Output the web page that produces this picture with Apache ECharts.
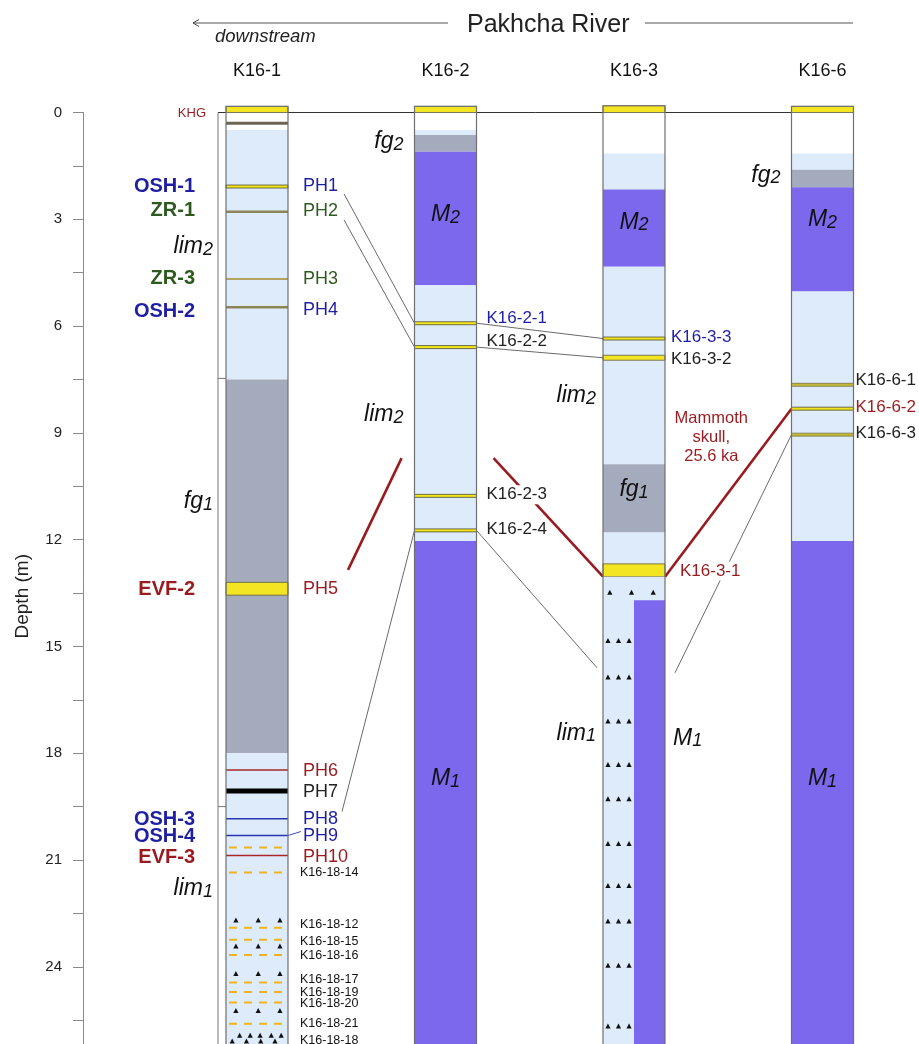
<!DOCTYPE html>
<html>
<head>
<meta charset="utf-8">
<title>Pakhcha River sections</title>
<script src="https://cdn.jsdelivr.net/npm/echarts@6.0.0/dist/echarts.min.js"></script>
<style>
html, body { margin: 0; padding: 0; background: #fff; }
#main { width: 919px; height: 1044px; }
</style>
</head>
<body>
<div id="main"></div>
<script>
// sections, downstream -> upstream
var cores = ['K16-1', 'K16-2', 'K16-3', 'K16-6'];
var DEPTH_MAX = 27.18;

// layers of each section: [top m, bottom m, kind]
var layersK161 = [[-0.17, 0, 'Y'], [0.49, 7.5, 'lb'], [7.5, 18.0, 'fg'], [13.2, 13.56, 'Y'], [18.0, DEPTH_MAX, 'lb']];
var layersK162 = [[-0.17, 0, 'Y'], [0.49, 0.63, 'lb'], [0.63, 1.1, 'fg'], [1.1, 4.85, 'M'], [4.85, 12.04, 'lb'], [12.04, DEPTH_MAX, 'M']];
var layersK163 = [[-0.19, 0, 'Y'], [1.15, 2.16, 'lb'], [2.16, 4.33, 'M'], [4.33, 9.88, 'lb'], [6.82, 6.96, 'Y'],
    [9.88, 11.8, 'fg'], [11.8, 12.68, 'lb'], [12.68, 13.04, 'Y'], [13.04, DEPTH_MAX, 'lb'], [13.7, DEPTH_MAX, 'MR']];
var layersK166 = [[-0.17, 0, 'Y'], [1.15, 1.61, 'lb'], [1.61, 2.1, 'fg'], [2.1, 5.03, 'M'], [5.03, 12.04, 'lb'], [12.04, DEPTH_MAX, 'M']];

// thin tephra / marker beds: [depth, kind]
var bedsK161 = [[0.3, 'dk'], [2.08, 'yk'], [2.79, 'ol'], [4.68, 'olt'], [5.47, 'ol'], [18.47, 'red'], [19.06, 'blk'],
    [19.84, 'blue'], [20.31, 'blue'], [20.87, 'red']];
var bedsK162 = [[5.92, 'yk'], [6.59, 'yk'], [10.77, 'yk'], [11.74, 'yk']];
var bedsK163 = [[6.35, 'yk']];
var bedsK166 = [[7.65, 'oy'], [8.32, 'yk'], [9.05, 'oy']];

// dashed cryptotephra horizons in K16-1
var dashDepths = [20.65, 21.35, 22.9, 23.24, 23.67, 24.44, 24.71, 25.0, 25.6];

// frost marks: [core, depth, pattern]
var triangleRows = [[0, 22.7, 'w3'], [0, 23.43, 'w3'], [0, 24.2, 'w3'], [0, 25.24, 'w3'], [0, 25.94, 'd5'], [0, 26.1, 'd4'],
    [2, 13.49, 't3'], [2, 14.85, 'l3'], [2, 15.87, 'l3'], [2, 17.11, 'l3'], [2, 18.33, 'l3'], [2, 19.29, 'l3'],
    [2, 20.55, 'l3'], [2, 21.73, 'l3'], [2, 22.73, 'l3'], [2, 23.97, 'l3'], [2, 25.68, 'l3']];

// tephra names left of K16-1 and PH numbers right of it
var tephraNames = ['OSH-1', 'ZR-1', 'ZR-3', 'OSH-2', 'EVF-2', 'OSH-3', 'OSH-4', 'EVF-3'];
var tephraDepths = [2.07, 2.74, 4.65, 5.58, 13.39, 19.85, 20.35, 20.94];
var tephraGroups = ['OSH', 'ZR', 'ZR', 'OSH', 'EVF', 'OSH', 'OSH', 'EVF'];
var phNames = ['PH1', 'PH2', 'PH3', 'PH4', 'PH5', 'PH6', 'PH7', 'PH8', 'PH9', 'PH10'];
var phDepths = [2.07, 2.77, 4.68, 5.55, 13.39, 18.5, 19.08, 19.85, 20.32, 20.91];
var phGroups = ['OSH', 'ZR', 'ZR', 'OSH', 'EVF', 'EVF', 'other', 'OSH', 'OSH', 'EVF'];
var k1618Names = ['K16-18-14', 'K16-18-12', 'K16-18-15', 'K16-18-16', 'K16-18-17', 'K16-18-19', 'K16-18-20', 'K16-18-21', 'K16-18-18'];
var k1618Depths = [21.35, 22.82, 23.3, 23.67, 24.37, 24.71, 25.02, 25.6, 26.06];

// samples in the other sections
var sampleNames = ['K16-2-1', 'K16-2-2', 'K16-2-3', 'K16-2-4', 'K16-3-3', 'K16-3-2', 'K16-3-1', 'K16-6-1', 'K16-6-2', 'K16-6-3'];
var sampleCores = [1, 1, 1, 1, 2, 2, 2, 3, 3, 3];
var sampleDepths = [5.77, 6.42, 10.74, 11.7, 6.31, 6.92, 12.88, 7.51, 8.27, 9.0];
var sampleGroups = ['OSH', 'other', 'other', 'other', 'OSH', 'other', 'EVF', 'other', 'EVF', 'other'];

// units: [core, depth, name, subscript, placement]
var unitLabels = [
    [0, 3.78, 'lim', '2', 'left'], [0, 10.94, 'fg', '1', 'left'], [0, 21.81, 'lim', '1', 'left'],
    [1, 0.83, 'fg', '2', 'left'], [1, 2.88, 'M', '2', 'centre'], [1, 8.5, 'lim', '2', 'left'], [1, 18.72, 'M', '1', 'centre'],
    [2, 3.09, 'M', '2', 'centre'], [2, 7.96, 'lim', '2', 'left'], [2, 10.6, 'fg', '1', 'centre'],
    [2, 17.44, 'lim', '1', 'left'], [2, 17.58, 'M', '1', 'right'],
    [3, 1.76, 'fg', '2', 'left'], [3, 3.02, 'M', '2', 'centre'], [3, 18.72, 'M', '1', 'centre']
];

// correlation lines: [coreA, posA, depthA, coreB, posB, depthB]; pos 'L'/'R' = column edge,
// a number = distance from the section centre in x-axis units
var tieLines = [[0, 0.462, 2.29, 1, 'L', 5.92], [0, 0.462, 3.02, 1, 'L', 6.59], [1, 'R', 5.92, 2, 'L', 6.35],
    [1, 'R', 6.59, 2, 'L', 6.89], [0, 0.451, 19.64, 1, 'L', 11.74], [1, 'R', 11.74, 2, -0.196, 15.6],
    [3, 'L', 9.05, 2, 0.2175, 15.74]];
var tieLineBlue = [[0, 'R', 20.31, 0, 0.233, 20.2]];
var mammothLines = [[0, 0.483, 12.85, 1, -0.233, 9.71], [1, 0.255, 9.71, 2, 'L', 13.04], [2, 'R', 13.04, 3, 'L', 8.32]];
var bracketTicks = [7.47, 19.5];

var FONT = '"Liberation Sans", Arial, Helvetica, sans-serif';
var HALF = 31;
var UNIT_GAP = [13, 11, 7, 11];
var SAMPLE_GAP = [12, 10, 6, 2];
var colors = {OSH: '#1f1fa3', ZR: '#2e5a20', EVF: '#9a1b1f', other: '#222'};
var layerStyle = {
    lb: {fill: '#deebfb'}, fg: {fill: '#a3abbc'}, M: {fill: '#7b68ec'}, MR: {fill: '#7b68ec'},
    Y: {fill: '#f3e521', stroke: '#5a5a4a', lineWidth: 0.8}
};
var bedStyle = {
    dk: {h: 3, fill: '#6b6452'}, yk: {h: 3, fill: '#f1e31c', stroke: '#3a3a2a', lineWidth: 0.7},
    ol: {h: 2.5, fill: '#8d8457'}, olt: {h: 2, fill: '#b3a464'}, oy: {h: 3, fill: '#c4b83c', stroke: '#6b6a3a', lineWidth: 0.7},
    red: {h: 1.5, fill: '#a8282a'}, blk: {h: 5, fill: '#000'}, blue: {h: 1.5, fill: '#2a36b0'}
};
var triPatterns = {
    w3: [0.16, 0.52, 0.87], d5: [0.22, 0.39, 0.55, 0.73, 0.89], d4: [0.1, 0.33, 0.56, 0.79],
    t3: [0.11, 0.46, 0.81], l3: [0.08, 0.25, 0.42]
};

var layerRows = [];
[layersK161, layersK162, layersK163, layersK166].forEach(function (list, c) {
    list.forEach(function (l) { layerRows.push([c, l[0], l[1], l[2]]); });
});
var bedRows = [];
[bedsK161, bedsK162, bedsK163, bedsK166].forEach(function (list, c) {
    list.forEach(function (b) { bedRows.push([c, b[0], b[1]]); });
});

function cx(api, core, off) {
    return api.coord([core + 0.5 + (typeof off === 'number' ? off : 0), 0])[0] +
        (off === 'L' ? -HALF : off === 'R' ? HALF : 0);
}
function cy(api, d) { return api.coord([0.5, d])[1]; }

function textEl(x, y, text, o) {
    return {
        type: 'text', x: x, y: y,
        style: {
            text: text, fill: o.color || '#222', fontFamily: FONT, fontSize: o.size || 16,
            fontWeight: o.weight || 'normal', fontStyle: o.style || 'normal',
            align: o.align || 'left', verticalAlign: 'middle', lineHeight: o.lineHeight,
            backgroundColor: o.bg, padding: o.bg ? [1, 2] : 0, rich: o.rich
        }
    };
}

var unitRich = {
    m: {fontFamily: FONT, fontSize: 23, fontStyle: 'italic', lineHeight: 24, fill: '#111'},
    s: {fontFamily: FONT, fontSize: 18, fontStyle: 'italic', lineHeight: 4, verticalAlign: 'bottom', fill: '#111'}
};

// all texts attached to the sections
var annotations = [];
annotations.push({core: 0, pos: 'L', gap: -20, d: 0.02, text: 'KHG', o: {size: 13, color: colors.EVF, align: 'right'}});
tephraNames.forEach(function (n, i) {
    annotations.push({core: 0, pos: 'L', gap: -31, d: tephraDepths[i], text: n,
        o: {size: 20, weight: 'bold', color: colors[tephraGroups[i]], align: 'right'}});
});
phNames.forEach(function (n, i) {
    annotations.push({core: 0, pos: 'R', gap: 15, d: phDepths[i], text: n, o: {size: 18, color: colors[phGroups[i]]}});
});
k1618Names.forEach(function (n, i) {
    annotations.push({core: 0, pos: 'R', gap: 12, d: k1618Depths[i], text: n, o: {size: 12.5, color: '#111'}});
});
sampleNames.forEach(function (n, i) {
    var bg = (n === 'K16-2-3' || n === 'K16-3-1') ? '#fff' : null;
    var c = sampleCores[i];
    var gap = n === 'K16-3-1' ? 13 : SAMPLE_GAP[c] - (bg ? 2 : 0);
    annotations.push({core: c, pos: 'R', gap: gap, d: sampleDepths[i], text: n,
        o: {size: 17, color: colors[sampleGroups[i]], bg: bg}});
});
unitLabels.forEach(function (u) {
    var pos = u[4] === 'left' ? 'L' : u[4] === 'right' ? 'R' : 0;
    var gap = u[4] === 'left' ? -UNIT_GAP[u[0]] : u[4] === 'right' ? 8 : 0;
    annotations.push({core: u[0], pos: pos, gap: gap, d: u[1], text: '{m|' + u[2] + '}{s|' + u[3] + '}',
        o: {align: u[4] === 'left' ? 'right' : u[4] === 'right' ? 'left' : 'center', rich: unitRich}});
});
annotations.push({core: 2, pos: 0.41, gap: 0, d: 9.12, text: 'Mammoth\nskull,\n25.6 ka',
    o: {size: 16.5, color: colors.EVF, align: 'center', lineHeight: 19}});

function lineSeries(rows, color, width, z) {
    return {
        type: 'custom', z: z, silent: true, xAxisIndex: 1, yAxisIndex: 1,
        data: rows.map(function (r, i) { return [i, r[2], r[5]]; }),
        renderItem: function (params, api) {
            var r = rows[params.dataIndex];
            return {
                type: 'line',
                shape: {x1: cx(api, r[0], r[1]), y1: cy(api, r[2]), x2: cx(api, r[3], r[4]), y2: cy(api, r[5])},
                style: {stroke: color, lineWidth: width}
            };
        }
    };
}

var chart = echarts.init(document.getElementById('main'));
var option = {
    animation: false,
    title: {
        text: 'Pakhcha River', left: 462, top: 8,
        textStyle: {fontFamily: FONT, fontSize: 25, fontWeight: 'normal', color: '#222'}
    },
    grid: [
        // depth axis sits on its own narrow grid
        {left: 83, width: 1, top: 112.5, height: 967.5, outerBoundsMode: 'none'},
        {left: 162.75, width: 754, top: 112.5, height: 967.5, outerBoundsMode: 'none'}
    ],
    xAxis: [
        {gridIndex: 0, type: 'value', min: 0, max: 1, show: false},
        {
            gridIndex: 1, type: 'value', position: 'top', min: 0, max: 4, interval: 0.5,
            axisLine: {show: false}, axisTick: {show: false}, splitLine: {show: false},
            axisLabel: {
                margin: 32, fontSize: 18, color: '#111', fontFamily: FONT,
                formatter: function (v) {
                    var i = v - 0.5;
                    return Math.abs(i - Math.round(i)) < 1e-6 ? cores[Math.round(i)] : '';
                }
            }
        }
    ],
    yAxis: [
        {
            gridIndex: 0, type: 'value', inverse: true, min: 0, max: DEPTH_MAX, interval: 1.5,
            name: 'Depth (m)', nameLocation: 'middle', nameGap: 51,
            nameTextStyle: {fontFamily: FONT, fontSize: 19, color: '#222'},
            axisLine: {show: true, lineStyle: {color: '#8a8a8a', width: 1}},
            axisTick: {show: true, length: 10, lineStyle: {color: '#8a8a8a'}},
            splitLine: {show: false},
            axisLabel: {
                margin: 21, fontSize: 15, color: '#222', fontFamily: FONT,
                formatter: function (v) { return Math.abs(v / 3 - Math.round(v / 3)) < 1e-6 ? String(Math.round(v)) : ''; }
            }
        },
        {gridIndex: 1, type: 'value', inverse: true, min: 0, max: DEPTH_MAX, show: false}
    ],
    graphic: [
        {type: 'line', shape: {x1: 193, y1: 23, x2: 448, y2: 23}, style: {stroke: '#555', lineWidth: 1}},
        {type: 'polyline', shape: {points: [[199, 19.5], [193, 23], [199, 26.5]]}, style: {stroke: '#444', fill: null, lineWidth: 1}},
        {type: 'line', shape: {x1: 645, y1: 23, x2: 853, y2: 23}, style: {stroke: '#555', lineWidth: 1}},
        {type: 'text', x: 215, y: 37, style: {text: 'downstream', fontFamily: FONT, fontSize: 18.5, fontStyle: 'italic', fill: '#222', verticalAlign: 'middle'}}
    ],
    series: [
        // datum line at 0 m and the K16-1 bracket
        {
            type: 'custom', z: 1, silent: true, xAxisIndex: 1, yAxisIndex: 1, data: [[0, 0]],
            renderItem: function (params, api) {
                var xl = cx(api, 0, 'L'), xb = xl - 8, y0 = cy(api, 0);
                var kids = [
                    {type: 'line', shape: {x1: xb, y1: y0, x2: cx(api, 3, 'R'), y2: y0}, style: {stroke: '#333', lineWidth: 1}},
                    {type: 'line', shape: {x1: xb, y1: y0, x2: xb, y2: cy(api, DEPTH_MAX)}, style: {stroke: '#777', lineWidth: 1}}
                ];
                bracketTicks.forEach(function (d) {
                    kids.push({type: 'line', shape: {x1: xb, y1: cy(api, d), x2: xl, y2: cy(api, d)}, style: {stroke: '#777', lineWidth: 1}});
                });
                return {type: 'group', children: kids};
            }
        },
        lineSeries(tieLines, '#444', 0.8, 2),
        lineSeries(tieLineBlue, '#2a36b0', 0.9, 2),
        lineSeries(mammothLines, '#9a1b1f', 2.6, 2),
        // white background of each section
        {
            type: 'custom', z: 3, silent: true, xAxisIndex: 1, yAxisIndex: 1,
            data: cores.map(function (c, i) { return [i + 0.5, 0]; }),
            renderItem: function (params, api) {
                var i = params.dataIndex, y0 = cy(api, -0.17);
                return {type: 'rect', shape: {x: cx(api, i, 'L'), y: y0, width: 2 * HALF, height: cy(api, DEPTH_MAX) - y0}, style: {fill: '#fff'}};
            }
        },
        // lithological units
        {
            type: 'custom', z: 4, silent: true, xAxisIndex: 1, yAxisIndex: 1,
            data: layerRows.map(function (r) { return [r[0] + 0.5, r[1], r[2]]; }),
            renderItem: function (params, api) {
                var r = layerRows[params.dataIndex], st = layerStyle[r[3]];
                var yt = cy(api, r[1]), yb = cy(api, r[2]);
                var x0 = r[3] === 'MR' ? cx(api, r[0], 0) : cx(api, r[0], 'L');
                var w = r[3] === 'MR' ? HALF : 2 * HALF;
                return {type: 'rect', shape: {x: x0, y: yt, width: w, height: yb - yt},
                    style: {fill: st.fill, stroke: st.stroke || null, lineWidth: st.lineWidth || 0}};
            }
        },
        // thin beds
        {
            type: 'custom', z: 5, silent: true, xAxisIndex: 1, yAxisIndex: 1,
            data: bedRows.map(function (r) { return [r[0] + 0.5, r[1]]; }),
            renderItem: function (params, api) {
                var r = bedRows[params.dataIndex], st = bedStyle[r[2]], y = cy(api, r[1]);
                return {type: 'rect', shape: {x: cx(api, r[0], 'L'), y: y - st.h / 2, width: 2 * HALF, height: st.h},
                    style: {fill: st.fill, stroke: st.stroke || null, lineWidth: st.lineWidth || 0}};
            }
        },
        // dashed horizons
        {
            type: 'custom', z: 5, silent: true, xAxisIndex: 1, yAxisIndex: 1,
            data: dashDepths.map(function (d) { return [0.5, d]; }),
            renderItem: function (params, api) {
                var y = cy(api, dashDepths[params.dataIndex]);
                return {type: 'line', shape: {x1: cx(api, 0, 'L') + 3, y1: y, x2: cx(api, 0, 'R') - 2, y2: y},
                    style: {stroke: '#f0b41e', lineWidth: 2, lineDash: [8, 7]}};
            }
        },
        // triangles
        {
            type: 'custom', z: 6, silent: true, xAxisIndex: 1, yAxisIndex: 1,
            data: triangleRows.map(function (r) { return [r[0] + 0.5, r[1]]; }),
            renderItem: function (params, api) {
                var r = triangleRows[params.dataIndex], xl = cx(api, r[0], 'L'), y = cy(api, r[1]);
                return {
                    type: 'group',
                    children: triPatterns[r[2]].map(function (f) {
                        var x = xl + f * 2 * HALF;
                        return {type: 'polygon', shape: {points: [[x, y - 3], [x - 2.6, y + 2], [x + 2.6, y + 2]]}, style: {fill: '#111'}};
                    })
                };
            }
        },
        // section outlines
        {
            type: 'custom', z: 7, silent: true, xAxisIndex: 1, yAxisIndex: 1,
            data: cores.map(function (c, i) { return [i + 0.5, 0]; }),
            renderItem: function (params, api) {
                var i = params.dataIndex, y0 = cy(api, i === 2 ? -0.19 : -0.17);
                return {type: 'rect', shape: {x: cx(api, i, 'L'), y: y0, width: 2 * HALF, height: cy(api, DEPTH_MAX) - y0},
                    style: {fill: null, stroke: '#707070', lineWidth: 1.2}};
            }
        },
        // texts
        {
            type: 'custom', z: 8, silent: true, xAxisIndex: 1, yAxisIndex: 1,
            data: annotations.map(function (a) { return [a.core + 0.5, a.d]; }),
            renderItem: function (params, api) {
                var a = annotations[params.dataIndex];
                return textEl(cx(api, a.core, a.pos) + a.gap, cy(api, a.d), a.text, a.o);
            }
        }
    ]
};
chart.setOption(option);
</script>
</body>
</html>
